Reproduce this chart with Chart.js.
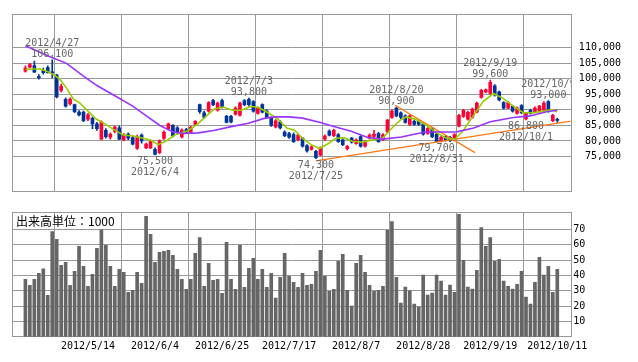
<!DOCTYPE html>
<html>
<head>
<meta charset="utf-8">
<script src="https://cdn.jsdelivr.net/npm/chart.js@4.4.0/dist/chart.umd.min.js"></script>
<style>
  body { margin: 0; background: #fff; }
  #wrap { position: relative; width: 638px; height: 362px; }
  #priceBox { position: absolute; left: 0; top: 0; width: 638px; height: 205px; }
  #volBox { position: absolute; left: 0; top: 200px; width: 638px; height: 162px; }
</style>
</head>
<body>
<div id="wrap">
  <div id="priceBox"><canvas id="priceChart" width="638" height="205"></canvas></div>
  <div id="volBox"><canvas id="volChart" width="638" height="162"></canvas></div>
</div>
<script>
// 日付ラベル (15営業日ごと)
const tickIdx = [14, 29, 44, 59, 74, 89, 104, 119];
const tickDates = ['2012/5/14', '2012/6/4', '2012/6/25', '2012/7/17', '2012/8/7', '2012/8/28', '2012/9/19', '2012/10/11'];

// 四本値 2012/4/19 - 2012/10/11
const opens = [
  102500, 103800, 104300, 100700, 102700, 103600, 102300, 101200, 96300, 93400,
  91900, 91700, 89300, 89300, 87000, 87300, 85500, 80600, 83400, 81200,
  83100, 84200, 80400, 82200, 81100, 77600, 81900, 77800, 77800, 77300,
  76200, 80800, 84000, 85000, 84200, 81300, 83700, 82800, 85300, 91700,
  89100, 89600, 93000, 89900, 93000, 87900, 87900, 88600, 88300, 93000,
  93400, 92700, 88900, 91700, 89600, 87600, 84500, 86200, 82900, 82400,
  82100, 80400, 80900, 78500, 77300, 76700, 75400, 80600, 83200, 81700,
  82100, 80400, 77500, 80900, 79100, 81400, 78300, 80900, 81500, 82400,
  80400, 82900, 87600, 90600, 89100, 88100, 85300, 86300, 86300, 85500,
  82400, 84000, 82200, 79900, 81400, 81200, 80400, 84800, 87900, 87000,
  87600, 89300, 94000, 95800, 95300, 97800, 95800, 92400, 90600, 91200,
  88900, 91400, 87100, 89900, 89300, 89600, 89900, 92700, 86500, 87000
];
const highs = [
  104200, 105000, 105700, 101400, 103500, 104200, 106100, 101500, 98300, 93900,
  93900, 91900, 89800, 89600, 88900, 87700, 86000, 86500, 84000, 82600,
  84800, 84800, 82400, 82600, 81600, 81900, 82300, 79300, 80300, 77800,
  80400, 83300, 85800, 85300, 84600, 83900, 84100, 84800, 86600, 91900,
  89600, 92700, 93400, 92500, 93500, 88300, 88300, 91000, 92500, 93300,
  93800, 93000, 91000, 92000, 90000, 87800, 86900, 86600, 83300, 82800,
  82600, 82300, 81200, 78800, 78400, 77000, 78100, 82000, 83600, 83800,
  82400, 80700, 78600, 81200, 80700, 81700, 80200, 82300, 83400, 82800,
  82400, 87000, 90000, 90900, 89400, 88400, 88400, 86700, 86600, 85800,
  84300, 84300, 82500, 81500, 81700, 81500, 82400, 88600, 90200, 89600,
  90600, 92500, 96600, 96800, 99600, 98200, 96100, 92700, 92700, 91500,
  91000, 91700, 89200, 90300, 91000, 91500, 92700, 93000, 88600, 87400
];
const lows = [
  102200, 103500, 102100, 99900, 101500, 101800, 100400, 93900, 95800, 90900,
  91500, 89100, 88100, 86200, 86500, 84000, 83400, 80500, 80900, 80600,
  82600, 80400, 80000, 80400, 78700, 77300, 79300, 77500, 77500, 75500,
  75900, 80500, 83600, 81300, 82300, 81000, 82400, 82500, 85000, 88900,
  87300, 89300, 91400, 89600, 90600, 85800, 85800, 88300, 88000, 91400,
  91200, 89300, 88600, 89000, 87200, 84700, 84200, 83900, 81400, 80800,
  79500, 80000, 78000, 76400, 77000, 74300, 75200, 80200, 81600, 81400,
  79500, 78500, 77100, 79300, 78900, 78000, 78000, 80600, 80900, 79500,
  80100, 82600, 87300, 87800, 87200, 85700, 85000, 85000, 85000, 81900,
  82100, 81100, 79700, 79700, 79900, 79800, 80100, 84500, 87600, 86700,
  87300, 89000, 93800, 95500, 95000, 94400, 92900, 90300, 90400, 89300,
  88600, 88800, 86800, 88600, 89000, 89300, 89600, 89300, 86200, 86000
];
const closes = [
  103500, 104600, 102200, 100300, 102000, 102000, 101800, 94200, 97600, 91200,
  93500, 89400, 88400, 86500, 88400, 85500, 84000, 86200, 81400, 82200,
  84500, 80600, 81900, 80900, 79000, 81300, 80000, 79000, 79800, 75700,
  80000, 82800, 85500, 81600, 82700, 83500, 82800, 84400, 86300, 89400,
  87600, 92400, 91700, 92200, 90900, 86000, 86100, 90600, 92200, 91700,
  91700, 89600, 90600, 89300, 87600, 85000, 86500, 84200, 81700, 81200,
  79800, 81900, 78300, 76800, 78100, 74600, 77800, 81600, 81900, 83400,
  79800, 78800, 78300, 79600, 80400, 78300, 79800, 81900, 82200, 79800,
  82000, 86700, 89600, 88100, 87600, 86000, 88100, 85300, 85300, 82200,
  84000, 81400, 79800, 81200, 80200, 80100, 82100, 88300, 89900, 89200,
  90300, 92200, 96300, 96500, 98900, 94800, 93200, 90600, 92400, 89600,
  90600, 89100, 88900, 88900, 90600, 91200, 92200, 89600, 88300, 86600
];

// 出来高 (単位: 1000)
const volumes = [
  37.4, 33.5, 37.4, 41.3, 44.2, 27.0, 68.6, 63.4, 46.5, 48.5,
  33.5, 42.6, 58.9, 45.9, 32.9, 40.7, 57.6, 69.7, 59.5, 45.9,
  32.9, 43.9, 42.0, 29.0, 30.3, 42.0, 34.8, 78.4, 66.7, 48.5,
  55.0, 55.6, 56.3, 53.0, 43.9, 37.4, 30.9, 37.4, 54.3, 64.7,
  32.9, 47.8, 36.8, 37.4, 28.3, 61.5, 37.4, 30.9, 59.5, 32.2,
  44.6, 51.1, 37.4, 43.9, 32.2, 41.3, 25.1, 38.7, 54.3, 39.4,
  35.5, 32.2, 41.3, 33.5, 34.2, 42.6, 56.3, 39.4, 29.6, 30.9,
  49.1, 53.7, 30.3, 19.9, 47.8, 53.0, 42.0, 33.5, 29.6, 30.3,
  32.9, 69.3, 75.1, 38.7, 21.9, 32.3, 29.9, 21.2, 19.3, 40.1,
  27.1, 28.4, 40.1, 36.2, 27.1, 33.6, 29.0, 79.7, 49.8, 32.3,
  31.0, 43.3, 71.2, 58.9, 64.7, 49.1, 50.4, 36.2, 32.9, 31.0,
  34.2, 42.6, 25.8, 21.2, 35.5, 51.7, 40.1, 45.9, 29.0, 44.0
];

// 移動平均線 (チャートから読み取り: [位置, 値])
const maShort = [
  [0, 103000], [1.8, 103200], [3.3, 103200], [4.8, 102480], [6.2, 101450], [7.7, 99900],
  [9.2, 97030], [10.7, 93520], [12.2, 92190], [14, 89610], [15.9, 87000], [17.8, 85500],
  [19.7, 83750], [21.9, 81900], [24.1, 81590], [26.4, 80870], [28.2, 80150], [29.7, 78800],
  [31.5, 80000], [33.5, 82000], [36.4, 83300], [38.6, 85500], [40.5, 88070], [42.3, 90330],
  [44.2, 90950], [46.4, 89920], [48.3, 89920], [50.5, 91160], [52.4, 90640], [54.3, 89100],
  [56.5, 87040], [58.5, 84160], [60.2, 83440], [62, 80870], [63.9, 78810], [65.8, 77575],
  [67.6, 79015], [69.5, 80870], [71.3, 81070], [73.2, 79840], [75.4, 79630], [77.7, 80350],
  [79.9, 80870], [81.7, 83700], [83.8, 86630], [85.2, 87760], [87.2, 87040], [89.8, 84990],
  [92, 82620], [94.2, 80870], [96.1, 80560], [98, 83440], [100.2, 88070], [102.4, 92700],
  [104.7, 95275], [106.9, 93730], [109.2, 91160], [111.4, 89100], [113.6, 89100], [115.9, 89620],
  [117.7, 90130], [119, 89410]
];
const maLong = [
  [0, 110700], [5.5, 107100], [9.2, 105000], [13, 100900], [16, 97850], [20.4, 94250],
  [24.1, 91150], [27.6, 87550], [30.1, 85000], [31.2, 84160], [33.1, 82900], [35.5, 82400],
  [38.7, 82600], [42.4, 83440], [46.3, 84700], [49.9, 85700], [53.6, 87350], [55.9, 87760],
  [58.9, 87760], [62, 87350], [65.8, 86000], [69.2, 84570], [72.9, 83130], [76.6, 81130],
  [80, 80600], [84.1, 81280], [89.4, 82900], [96.5, 82930], [100.3, 84200], [104, 86200],
  [109.2, 87560], [112.9, 88070], [116.6, 89400], [119, 89900]
];

// トレンドライン
const trendUp = [[65, 73600], [122, 86420]];
const trendDown = [[82.7, 91500], [100.6, 76250]];

// 高値・安値の注記
const highNoteIdx = [6, 50, 83, 104, 117];
const highNoteDates = ['2012/4/27', '2012/7/3', '2012/8/20', '2012/9/19', '2012/10/9'];
const lowNoteIdx = [29, 65, 92, 112];
const lowNoteDates = ['2012/6/4', '2012/7/25', '2012/8/31', '2012/10/1'];

const priceTicks = [75000, 80000, 85000, 90000, 95000, 100000, 105000, 110000];
const volTicks = [10, 20, 30, 40, 50, 60, 70];

const gridColor = '#999999';
const noteColor = '#666666';
const upColor = '#ff0033';
const downColor = '#003399';
const monoFont = "'DejaVu Sans Mono', monospace";

Chart.defaults.font.family = monoFont;
Chart.defaults.font.size = 10;
Chart.defaults.color = '#000';

const idx = opens.map((_, i) => i);
const candleColors = idx.map(i => closes[i] >= opens[i] ? upColor : downColor);
const fmt = v => v.toLocaleString('en-US');
const toPts = arr => arr.map(([x, y]) => ({ x, y }));

// 枠線
const framePlugin = {
  id: 'frame',
  beforeDatasetsDraw(chart) {
    const { ctx, chartArea: a } = chart;
    ctx.save();
    ctx.strokeStyle = gridColor;
    ctx.lineWidth = 1;
    ctx.strokeRect(Math.round(a.left) + 0.5, Math.round(a.top) + 0.5,
      Math.round(a.right - a.left), Math.round(a.bottom - a.top));
    ctx.restore();
  }
};

// 高値・安値の注記
const notePlugin = {
  id: 'notes',
  afterDatasetsDraw(chart) {
    const { ctx, chartArea: a, scales: { x, y } } = chart;
    ctx.save();
    ctx.beginPath();
    ctx.rect(a.left, a.top, a.right - a.left, a.bottom - a.top);
    ctx.clip();
    ctx.font = '10px ' + monoFont;
    ctx.fillStyle = noteColor;
    ctx.textAlign = 'center';
    ctx.textBaseline = 'middle';
    highNoteIdx.forEach((i, k) => {
      const px = x.getPixelForValue(i);
      const py = y.getPixelForValue(highs[i]);
      ctx.fillText(highNoteDates[k], px, py - 16.5);
      ctx.fillText(fmt(highs[i]), px, py - 5.5);
    });
    lowNoteIdx.forEach((i, k) => {
      const px = x.getPixelForValue(i);
      const py = y.getPixelForValue(lows[i]);
      ctx.fillText(fmt(lows[i]), px, py + 6.5);
      ctx.fillText(lowNoteDates[k], px, py + 17.5);
    });
    ctx.restore();
  }
};

// 出来高ラベル
const volLabelPlugin = {
  id: 'volLabel',
  afterDatasetsDraw(chart) {
    const { ctx, chartArea: a } = chart;
    ctx.save();
    ctx.font = "12px 'Noto Sans CJK JP', sans-serif";
    ctx.fillStyle = '#000';
    ctx.textAlign = 'left';
    ctx.textBaseline = 'middle';
    ctx.fillText('出来高単位：1000', a.left + 4, a.top + 9);
    ctx.restore();
  }
};

const xScaleBase = {
  type: 'linear',
  min: -3,
  max: 122,
  offset: false,
  afterBuildTicks: s => { s.ticks = tickIdx.map(v => ({ value: v })); },
  grid: { color: gridColor, drawTicks: false },
  border: { display: false }
};

new Chart(document.getElementById('priceChart'), {
  type: 'bar',
  data: {
    datasets: [
      {
        type: 'line', data: toPts(maLong), borderColor: '#9933ff', borderWidth: 1.6,
        pointRadius: 0, tension: 0, order: 0
      },
      {
        type: 'line', data: toPts(maShort), borderColor: '#99cc00', borderWidth: 1.6,
        pointRadius: 0, tension: 0, order: 0
      },
      {
        type: 'line', data: toPts(trendUp), borderColor: '#ff7711', borderWidth: 1.3,
        pointRadius: 0, order: 0
      },
      {
        type: 'line', data: toPts(trendDown), borderColor: '#ff7711', borderWidth: 1.3,
        pointRadius: 0, order: 0
      },
      {
        data: idx.map(i => ({ x: i, y: [lows[i], highs[i]] })),
        backgroundColor: candleColors, barThickness: 1, grouped: false, order: 2
      },
      {
        data: idx.map(i => ({ x: i, y: [opens[i], closes[i]] })),
        backgroundColor: candleColors, barThickness: 3, minBarLength: 1, grouped: false, order: 1
      }
    ]
  },
  options: {
    responsive: false,
    animation: false,
    devicePixelRatio: 1,
    layout: { padding: { left: 12, top: 12, right: 17, bottom: 8.3 } },
    plugins: { legend: { display: false }, tooltip: { enabled: false } },
    scales: {
      x: Object.assign({}, xScaleBase, {
        afterFit: s => { s.height = 0; },
        ticks: { display: false }
      }),
      y: {
        position: 'right',
        min: 63889,
        max: 120895,
        afterBuildTicks: s => { s.ticks = priceTicks.map(v => ({ value: v })); },
        afterFit: s => { s.width = 50.3; },
        grid: { color: gridColor, drawTicks: false },
        border: { display: false },
        ticks: { crossAlign: 'far', padding: 8, color: '#000', callback: v => fmt(v) }
      }
    }
  },
  plugins: [framePlugin, notePlugin]
});

new Chart(document.getElementById('volChart'), {
  type: 'bar',
  data: {
    datasets: [{
      data: idx.map(i => ({ x: i, y: volumes[i] })),
      backgroundColor: '#666666', barThickness: 3
    }]
  },
  options: {
    responsive: false,
    animation: false,
    devicePixelRatio: 1,
    layout: { padding: { left: 12, top: 12.3, right: 0, bottom: 5.3 } },
    plugins: { legend: { display: false }, tooltip: { enabled: false } },
    scales: {
      x: Object.assign({}, xScaleBase, {
        afterFit: s => { s.height = 20; },
        ticks: {
          padding: 4, color: '#000', autoSkip: false, maxRotation: 0, minRotation: 0,
          callback: v => tickDates[tickIdx.indexOf(v)]
        }
      }),
      y: {
        position: 'right',
        min: 0,
        max: 81.1,
        afterBuildTicks: s => { s.ticks = volTicks.map(v => ({ value: v })); },
        afterFit: s => { s.width = 67.3; },
        grid: { color: gridColor, drawTicks: false },
        border: { display: false },
        ticks: { crossAlign: 'near', padding: 2.5, color: '#000' }
      }
    }
  },
  plugins: [framePlugin, volLabelPlugin]
});
</script>
</body>
</html>
